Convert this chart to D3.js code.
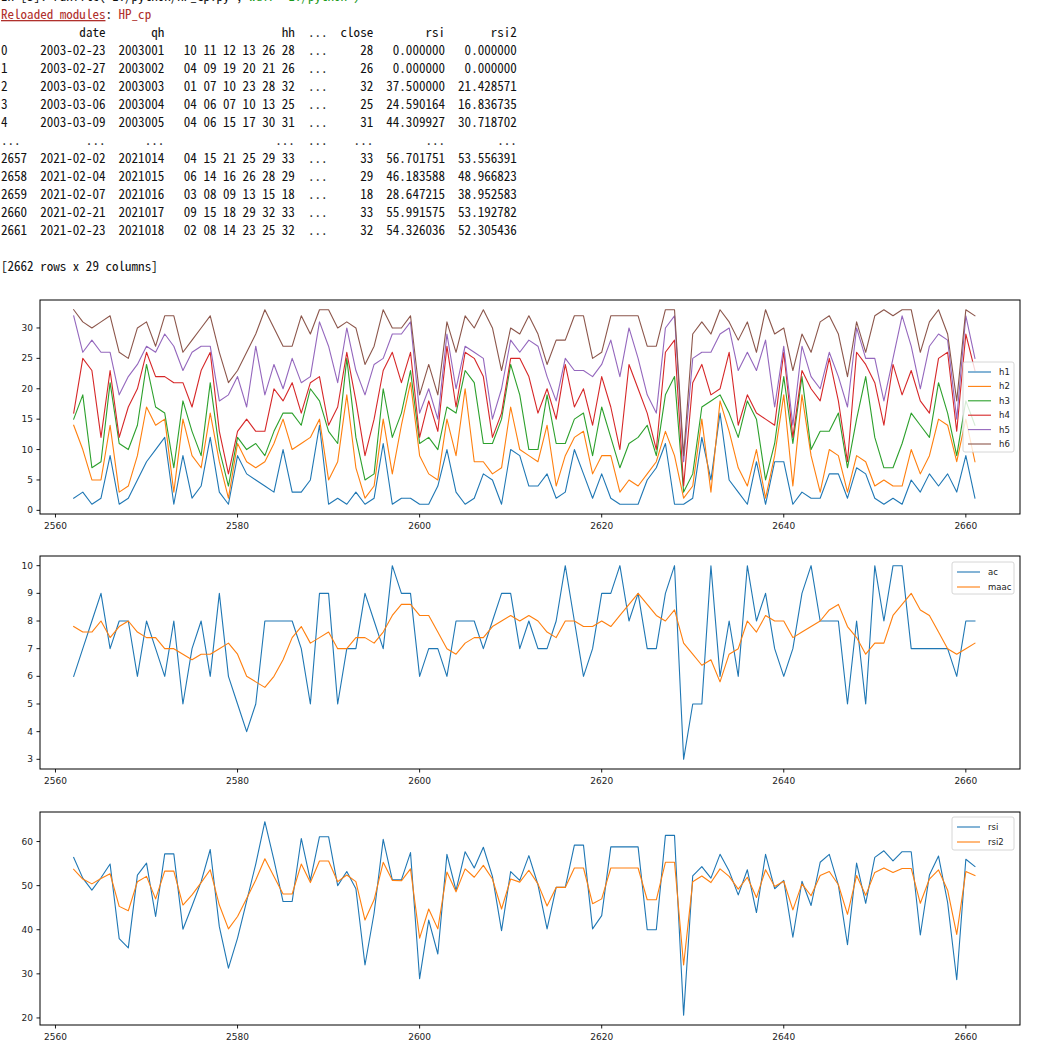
<!DOCTYPE html>
<html>
<head>
<meta charset="utf-8">
<script src="https://d3js.org/d3.v7.min.js"></script>
<style>
  body { margin: 0; background: #fff; }
  svg { display: block; }
  .con { font-family: "Noto Sans Mono CJK SC", "DejaVu Sans Mono", monospace; font-size: 13px; fill: #111; }
  .tick-label { font-family: "DejaVu Sans", sans-serif; font-size: 9px; fill: #222; }
  .leg { font-family: "DejaVu Sans", sans-serif; font-size: 8.5px; fill: #222; }
</style>
</head>
<body>
<div id="chart"></div>
<script>
// dataframe index shown on the x axis
var idx = d3.range(2562, 2662);

// six drawn numbers per row
var h1 = [2,3,1,2,9,1,2,5,8,10, 12,1,9,2,4,12,3,1,9,6, 5,4,3,10,3,3,5,14,1,2,
  1,3,1,2,11,1,2,2,1,1, 4,10,3,1,2,6,5,1,10,9, 4,4,6,2,3,10,6,2,6,2,
  1,1,1,5,7,11,1,1,2,12, 5,16,5,3,1,8,1,8,8,1, 3,2,2,6,6,2,7,6,2,1, 2,1,5,3,6,4,6,3,9,2];
var h2 = [14,10,5,5,14,3,4,9,17,14, 15,3,15,9,7,16,8,2,11,8, 7,8,11,15,10,11,12,15,5,8,
  19,7,2,4,15,6,14,21,9,6, 5,15,9,20,8,8,6,7,17,10, 9,8,14,4,9,12,13,6,9,9,
  3,5,4,6,8,13,9,2,4,15, 3,18,13,7,4,10,2,9,19,4, 19,9,3,10,9,3,9,8,4,5, 4,4,10,6,9,15,14,8,15,8];
var h3 = [15,19,7,8,21,11,10,14,24,17, 16,7,18,13,9,21,10,4,12,10, 11,9,13,16,16,14,20,18,13,11,
  25,12,5,6,20,12,16,23,11,12, 10,17,16,23,21,11,11,15,24,19, 10,10,19,11,11,15,16,9,17,12,
  7,11,12,14,9,19,22,3,6,17, 18,19,16,12,18,15,5,11,22,11, 22,10,13,13,16,7,15,22,12,7, 7,11,16,14,12,21,16,9,18,14];
var h4 = [16,25,23,12,23,12,17,20,26,22, 22,21,21,17,23,26,13,6,13,15, 13,13,20,18,21,16,21,22,14,17,
  26,18,9,15,23,26,21,26,12,18, 13,27,17,26,25,22,12,16,25,25, 22,16,20,15,24,17,20,14,22,17,
  10,24,20,16,10,26,28,4,21,24, 19,20,26,14,19,16,15,14,26,12, 23,20,18,25,18,8,26,24,21,14, 24,19,23,18,16,25,26,13,29,23];
var h5 = [32,26,28,26,26,19,22,24,27,26, 29,27,23,26,27,27,18,19,22,17, 27,19,24,20,25,21,22,31,27,21,
  30,23,19,24,25,29,29,31,16,20, 15,29,20,27,26,25,15,20,28,26, 28,27,22,18,25,23,23,22,24,28,
  22,30,25,19,16,30,32,8,25,26, 26,29,30,23,26,23,28,17,27,14, 27,22,20,26,22,17,30,25,25,18, 25,32,27,20,27,29,28,15,32,25];
var h6 = [33,31,30,31,32,26,25,30,31,27, 32,32,26,28,30,32,26,21,23,26, 29,33,30,27,27,32,29,33,33,30,
  31,30,24,27,33,30,30,32,19,24, 19,31,26,32,30,33,30,23,30,29, 32,29,24,28,28,32,32,25,26,32,
  32,32,32,27,27,33,33,9,29,31, 29,33,31,28,31,26,33,29,30,23, 29,26,31,32,29,22,31,26,32,33, 32,33,33,26,31,33,29,18,33,32];

// ac and its moving average
var ac = [6,7,8,9,7,8,8,6,8,7, 6,8,5,7,8,6,9,6,5,4, 5,8,8,8,8,7,5,9,9,5,
  7,7,9,8,7,10,9,9,6,7, 7,6,8,8,8,7,8,9,9,7, 8,7,7,8,10,8,6,7,9,9,
  10,8,9,7,7,9,10,3,5,5, 10,6,8,6,10,8,9,7,6,7, 9,10,8,8,8,5,8,5,10,8, 10,10,7,7,7,7,7,6,8,8];
var maac = [7.8,7.6,7.6,8.0,7.4,7.8,8.0,7.6,7.4,7.4, 7.0,7.0,6.8,6.6,6.8,6.8,7.0,7.2,6.8,6.0,
  5.8,5.6,6.0,6.6,7.4,7.8,7.2,7.4,7.6,7.0, 7.0,7.4,7.4,7.2,7.6,8.2,8.6,8.6,8.2,8.2,
  7.6,7.0,6.8,7.2,7.4,7.4,7.8,8.0,8.2,8.0, 8.2,8.0,7.6,7.4,8.0,8.0,7.8,7.8,8.0,7.8,
  8.2,8.6,9.0,8.6,8.2,8.0,8.4,7.2,6.8,6.4, 6.6,5.8,6.8,7.0,8.0,7.6,8.2,8.0,8.0,7.4,
  7.6,7.8,8.0,8.4,8.6,7.8,7.4,6.8,7.2,7.2, 8.2,8.6,9.0,8.4,8.2,7.6,7.0,6.8,7.0,7.2];

// rsi and rsi2
var rsi = [56.4,51.7,49.0,51.8,54.9,38.0,35.9,52.4,55.1,43.0, 57.2,57.2,40.1,45.4,50.9,58.2,40.7,31.3,38.1,46.5,
  54.9,64.5,55.8,46.4,46.4,60.7,51.2,61.1,61.1,50.0, 53.2,49.3,32.0,43.8,60.5,51.3,51.3,57.5,28.9,42.2,
  34.5,57.1,48.9,57.7,54.0,58.7,52.1,39.8,53.2,51.2, 56.8,50.2,40.2,49.6,49.6,59.2,59.2,40.2,43.2,58.8,
  58.8,58.8,58.8,40.0,40.0,61.4,61.4,20.6,52.2,54.3, 51.7,57.1,53.3,47.9,53.6,43.9,57.1,49.3,51.2,38.3,
  51.0,45.5,55.3,57.1,50.1,36.6,55.1,46.0,56.4,57.9, 55.6,57.7,57.7,38.8,52.4,56.70,46.18,28.65,55.99,54.33];
var rsi2 = [53.7,51.5,50.4,51.6,52.7,45.3,44.3,50.9,52.1,47.0, 53.3,53.3,45.6,47.9,50.7,53.6,45.6,40.2,43.0,47.1,
  51.3,56.1,52.1,48.1,48.1,54.9,50.7,55.6,55.6,50.9, 52.4,50.9,42.2,46.8,55.3,51.2,51.1,53.8,38.1,44.7,
  40.2,53.1,48.6,53.8,51.9,54.6,51.5,44.7,51.5,50.8, 53.5,50.4,45.4,49.6,49.6,54.0,54.0,45.9,47.0,54.0,
  54.0,54.0,54.0,46.8,46.8,55.3,55.3,32.0,50.9,52.2, 50.7,53.8,52.1,49.2,51.9,47.3,53.6,49.8,51.0,44.5,
  50.4,47.7,52.3,53.2,50.2,43.5,52.3,47.8,53.0,54.0, 53.0,53.9,53.9,46.0,51.5,53.56,48.97,38.95,53.19,52.31];

var xTicks = [2560, 2580, 2600, 2620, 2640, 2660];
var hTicks = [0, 5, 10, 15, 20, 25, 30];
var acTicks = [3, 4, 5, 6, 7, 8, 9, 10];
var rsiTicks = [20, 30, 40, 50, 60];

var colors = ["#1f77b4", "#ff7f0e", "#2ca02c", "#d62728", "#9467bd", "#8c564b"];

// console printout above the plots
var consoleLines = [
  "            date       qh                  hh  ...  close        rsi       rsi2",
  "0     2003-02-23  2003001   10 11 12 13 26 28  ...     28   0.000000   0.000000",
  "1     2003-02-27  2003002   04 09 19 20 21 26  ...     26   0.000000   0.000000",
  "2     2003-03-02  2003003   01 07 10 23 28 32  ...     32  37.500000  21.428571",
  "3     2003-03-06  2003004   04 06 07 10 13 25  ...     25  24.590164  16.836735",
  "4     2003-03-09  2003005   04 06 15 17 30 31  ...     31  44.309927  30.718702",
  "...          ...      ...                 ...  ...    ...        ...        ...",
  "2657  2021-02-02  2021014   04 15 21 25 29 33  ...     33  56.701751  53.556391",
  "2658  2021-02-04  2021015   06 14 16 26 28 29  ...     29  46.183588  48.966823",
  "2659  2021-02-07  2021016   03 08 09 13 15 18  ...     18  28.647215  38.952583",
  "2660  2021-02-21  2021017   09 15 18 29 32 33  ...     33  55.991575  53.192782",
  "2661  2021-02-23  2021018   02 08 14 23 25 32  ...     32  54.326036  52.305436",
  "",
  "[2662 rows x 29 columns]"
];

var W = 1061, H = 1057;
var svg = d3.select("#chart").append("svg")
    .attr("width", W)
    .attr("height", H);

svg.append("rect").attr("width", W).attr("height", H).attr("fill", "#fff");

var charW = 6.53;

function putTokens(g, line, y, fill) {
    var re = /\S+/g, m;
    while ((m = re.exec(line)) !== null) {
        g.append("text")
            .attr("class", "con")
            .attr("x", 1 + m.index * charW)
            .attr("y", y)
            .attr("textLength", m[0].length * charW)
            .attr("lengthAdjust", "spacingAndGlyphs")
            .style("fill", fill || "#111")
            .text(m[0]);
    }
}

var con = svg.append("g").attr("class", "console");

// previous input line, scrolled almost fully off the top
putTokens(con, "In [3]: runfile('E:/python/HP_cp.py',", 1, "#111");
putTokens(con, "                                      wdir='E:/python')", 1, "#1a9a1a");

// "Reloaded modules: HP_cp"
con.append("text").attr("class", "con")
    .attr("x", 1).attr("y", 19)
    .attr("textLength", 16 * charW).attr("lengthAdjust", "spacingAndGlyphs")
    .style("fill", "#b0302c")
    .style("text-decoration", "underline")
    .text("Reloaded modules");
putTokens(con, "                :", 19, "#111");
putTokens(con, "                  HP_cp", 19, "#b0302c");

consoleLines.forEach(function(line, i){
    putTokens(con, line, 36.5 + i * 18);
});

// shared x scale
var x = d3.scaleLinear().domain([2558.3, 2665.95]).range([40, 1020]);

function drawPanel(p) {
    var y = d3.scaleLinear().domain(p.yDomain).range([p.bottom, p.top]);
    var g = svg.append("g").attr("class", "panel");

    var line = d3.line()
        .x(function(d, i){ return x(idx[i]); })
        .y(function(d){ return y(d); });

    p.series.forEach(function(s){
        g.append("path")
            .datum(s.values)
            .attr("d", line)
            .attr("fill", "none")
            .attr("stroke", s.color)
            .attr("stroke-width", 1.1)
            .attr("stroke-linejoin", "round")
            .attr("stroke-linecap", "square");
    });

    // frame
    g.append("rect")
        .attr("x", 40).attr("y", p.top)
        .attr("width", 980).attr("height", p.bottom - p.top)
        .attr("fill", "none").attr("stroke", "#000").attr("stroke-width", 1);

    // x ticks
    xTicks.forEach(function(t){
        g.append("line")
            .attr("x1", x(t)).attr("x2", x(t))
            .attr("y1", p.bottom).attr("y2", p.bottom + 3.5)
            .attr("stroke", "#000").attr("stroke-width", 0.9);
        g.append("text").attr("class", "tick-label")
            .attr("x", x(t)).attr("y", p.bottom + 15)
            .attr("text-anchor", "middle")
            .text(t);
    });

    // y ticks
    p.yTicks.forEach(function(t){
        g.append("line")
            .attr("x1", 40).attr("x2", 36.5)
            .attr("y1", y(t)).attr("y2", y(t))
            .attr("stroke", "#000").attr("stroke-width", 0.9);
        g.append("text").attr("class", "tick-label")
            .attr("x", 33).attr("y", y(t) + 3)
            .attr("text-anchor", "end")
            .text(t);
    });

    // legend
    var L = p.legend;
    var lg = g.append("g").attr("class", "legend");
    lg.append("rect")
        .attr("x", L.x).attr("y", L.y)
        .attr("width", L.w).attr("height", L.h)
        .attr("rx", 2)
        .attr("fill", "#fff").attr("fill-opacity", 0.8)
        .attr("stroke", "#cccccc").attr("stroke-width", 0.8);
    p.series.forEach(function(s, i){
        var cy = L.y + L.first + i * L.step;
        lg.append("line")
            .attr("x1", L.x + 5).attr("x2", L.x + 28)
            .attr("y1", cy).attr("y2", cy)
            .attr("stroke", s.color).attr("stroke-width", 1.1);
        lg.append("text").attr("class", "leg")
            .attr("x", L.x + 36).attr("y", cy + 3)
            .text(s.name);
    });
}

drawPanel({
    top: 300, bottom: 514,
    yDomain: [-0.6, 34.6],
    yTicks: hTicks,
    series: [
        {name: "h1", values: h1, color: colors[0]},
        {name: "h2", values: h2, color: colors[1]},
        {name: "h3", values: h3, color: colors[2]},
        {name: "h4", values: h4, color: colors[3]},
        {name: "h5", values: h5, color: colors[4]},
        {name: "h6", values: h6, color: colors[5]}
    ],
    legend: {x: 963, y: 362, w: 51, h: 90, first: 10, step: 14.4}
});

drawPanel({
    top: 556, bottom: 769,
    yDomain: [2.65, 10.35],
    yTicks: acTicks,
    series: [
        {name: "ac", values: ac, color: colors[0]},
        {name: "maac", values: maac, color: colors[1]}
    ],
    legend: {x: 952, y: 562, w: 62, h: 32, first: 10, step: 15}
});

drawPanel({
    top: 812, bottom: 1025,
    yDomain: [18.4, 66.7],
    yTicks: rsiTicks,
    series: [
        {name: "rsi", values: rsi, color: colors[0]},
        {name: "rsi2", values: rsi2, color: colors[1]}
    ],
    legend: {x: 952, y: 817, w: 62, h: 33, first: 10, step: 15}
});
</script>
</body>
</html>
